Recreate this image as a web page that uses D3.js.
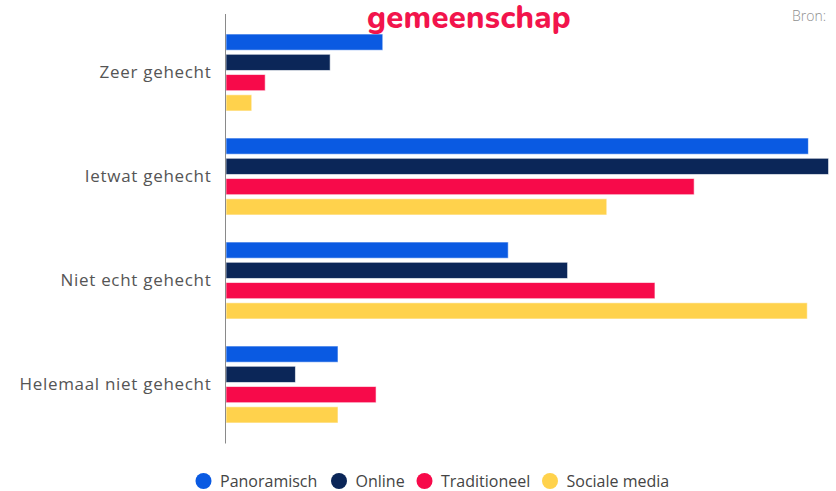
<!DOCTYPE html>
<html>
<head>
<meta charset="utf-8">
<script src="https://cdn.jsdelivr.net/npm/d3@7"></script>
<style>
  html, body { margin: 0; padding: 0; background: #fff; }
  svg { display: block; font-family: "Open Sans", "Noto Sans", sans-serif; }
</style>
</head>
<body>
<svg id="chart" width="836" height="491"></svg>
<script>
// Data: share of respondents per attachment level, by type of community
const categories = ["Zeer gehecht", "Ietwat gehecht", "Niet echt gehecht", "Helemaal niet gehecht"];
const seriesNames = ["Panoramisch", "Online", "Traditioneel", "Sociale media"];
const panoramisch = [14.0, 52.0, 25.2, 10.0];
const online = [9.3, 53.8, 30.5, 6.2];
const traditioneel = [3.5, 41.8, 38.3, 13.4];
const socialeMedia = [2.3, 34.0, 51.9, 10.0];
const colors = ["#0a5ae2", "#0b2658", "#f70a4a", "#ffd24c"];

const seriesValues = [panoramisch, online, traditioneel, socialeMedia];

const svg = d3.select("#chart");

const axisX = 225.5;
const x = d3.scaleLinear().domain([0, 54]).range([226, 830.8]);
const y0 = d3.scaleBand().domain(categories).range([20.5, 436.5]).paddingInner(0).paddingOuter(0);
const y1 = d3.scaleBand().domain(seriesNames).range([0, 81]).paddingInner(0.2).paddingOuter(0.1);
const groupOffset = (y0.bandwidth() - 81) / 2;

// Bars
const groups = svg.append("g").selectAll("g")
  .data(categories)
  .join("g")
  .attr("transform", c => `translate(0,${y0(c) + groupOffset})`);

groups.selectAll("rect")
  .data((c, i) => seriesNames.map((s, j) => ({ s, j, v: seriesValues[j][i] })))
  .join("rect")
  .attr("x", x(0))
  .attr("y", d => y1(d.s))
  .attr("width", d => x(d.v) - x(0))
  .attr("height", y1.bandwidth())
  .attr("fill", d => colors[d.j])
  .attr("stroke", "#ffffff")
  .attr("stroke-opacity", 0.6)
  .attr("stroke-width", 1);

// Category axis
const yAxis = d3.axisLeft(y0).tickSize(0).tickPadding(14);
const ag = svg.append("g").attr("transform", `translate(${axisX},0.5)`).call(yAxis);
ag.select(".domain").remove();
ag.selectAll("text")
  .attr("font-size", 17)
  .attr("letter-spacing", "0.7px")
  .attr("fill", "#555")
  .attr("font-family", "'Open Sans', sans-serif");
svg.append("line")
  .attr("x1", axisX).attr("x2", axisX)
  .attr("y1", 14).attr("y2", 443.5)
  .attr("stroke", "#8a8a8a").attr("stroke-width", 1);

// Title
svg.append("text")
  .attr("x", 469).attr("y", 28)
  .attr("text-anchor", "middle")
  .attr("font-family", "'Nunito', 'Lato', 'Open Sans', sans-serif")
  .attr("font-weight", 800)
  .attr("font-size", 31)
  .attr("letter-spacing", "0.3px")
  .attr("fill", "#f2144c")
  .text("gemeenschap");

// Source note
svg.append("text")
  .attr("x", 826).attr("y", 21)
  .attr("text-anchor", "end")
  .attr("font-size", 14)
  .attr("font-weight", 300)
  .attr("fill", "#8f8f8f")
  .text("Bron:");

// Legend
const legendX = [203.5, 339, 424.5, 550];
const legend = svg.append("g").selectAll("g")
  .data(seriesNames)
  .join("g")
  .attr("transform", (d, i) => `translate(${legendX[i]},481)`);
legend.append("circle").attr("r", 8).attr("fill", (d, i) => colors[i]);
legend.append("text")
  .attr("x", 16.5).attr("dy", "0.35em")
  .attr("font-size", 16)
  .attr("fill", "#444")
  .text(d => d);
</script>
</body>
</html>
